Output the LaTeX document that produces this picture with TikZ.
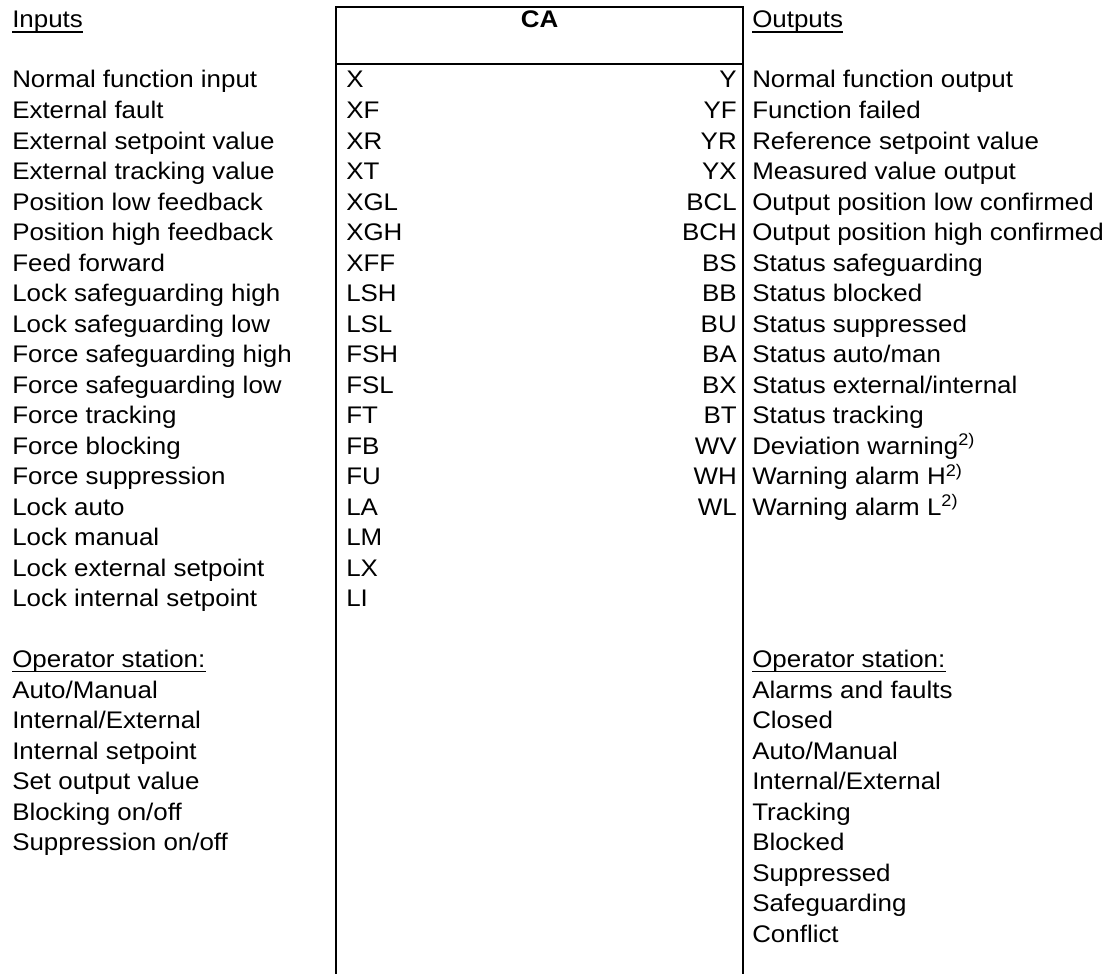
\documentclass[tikz,border=0pt]{standalone}
\usepackage{fontspec}
\setmainfont{Liberation Sans}[FakeStretch=1.08]
\newcommand\lblfont{\fontsize{18}{22}\selectfont}
\begin{document}
\begin{tikzpicture}[x=0.75pt,y=-0.75pt,
  lbl/.style={anchor=base west,inner sep=0pt,font=\lblfont},
  lblr/.style={anchor=base east,inner sep=0pt,font=\lblfont},
  frame/.style={line width=1.5pt},
  bus/.style={line width=1.5pt},
  uline/.style={line width=1.0pt}]
\useasboundingbox (0,0) rectangle (1116,974);

% function block header and its two side rails
\coordinate (tl) at (336,7);
\coordinate (br) at (743,64);
\coordinate (botl) at (336,974);
\coordinate (botr) at (743,974);
\draw[frame] (tl) rectangle (br);
\draw[bus] (tl |- br) -- (botl);
\draw[bus] (br) -- (botr);
\node[inner sep=0pt,font=\lblfont\bfseries,anchor=base] (ca) at (539.5,28) {CA};

% column headings (underlined just below the baseline)
\node[lbl] (hin) at (12,28) {Inputs};
\node[lbl] (hout) at (752,28) {Outputs};

% inputs
\foreach \t [count=\i] in {Normal function input,External fault,External setpoint value,External tracking value,Position low feedback,Position high feedback,Feed forward,Lock safeguarding high,Lock safeguarding low,Force safeguarding high,Force safeguarding low,Force tracking,Force blocking,Force suppression,Lock auto,Lock manual,Lock external setpoint,Lock internal setpoint}
  \node[lbl] (in\i) at (12,{88+30.5*(\i-1)}) {\t};

% input terminals
\foreach \t [count=\i] in {X,XF,XR,XT,XGL,XGH,XFF,LSH,LSL,FSH,FSL,FT,FB,FU,LA,LM,LX,LI}
  \node[lbl] (ti\i) at (346,{88+30.5*(\i-1)}) {\t};

% output terminals
\foreach \t [count=\i] in {Y,YF,YR,YX,BCL,BCH,BS,BB,BU,BA,BX,BT,WV,WH,WL}
  \node[lblr] (to\i) at (737,{88+30.5*(\i-1)}) {\t};

% outputs
\foreach \t [count=\i] in {Normal function output,Function failed,Reference setpoint value,Measured value output,Output position low confirmed,Output position high confirmed,Status safeguarding,Status blocked,Status suppressed,Status auto/man,Status external/internal,Status tracking,{Deviation warning\textsuperscript{2)}},{Warning alarm H\textsuperscript{2)}},{Warning alarm L\textsuperscript{2)}}}
  \node[lbl] (out\i) at (752,{88+30.5*(\i-1)}) {\t};

% operator station, input side
\node[lbl] (opin) at (12,{88+30.5*19}) {Operator station:};
\foreach \t [count=\i] in {Auto/Manual,Internal/External,Internal setpoint,Set output value,Blocking on/off,Suppression on/off}
  \node[lbl] (opi\i) at (12,{88+30.5*(19+\i)}) {\t};

% operator station, output side
\node[lbl] (opout) at (752,{88+30.5*19}) {Operator station:};
\foreach \t [count=\i] in {Alarms and faults,Closed,Auto/Manual,Internal/External,Tracking,Blocked,Suppressed,Safeguarding,Conflict}
  \node[lbl] (opo\i) at (752,{88+30.5*(19+\i)}) {\t};

% underlines of the headings
\foreach \n in {hin,hout,opin,opout}
  \draw[uline] ([yshift=-3pt]\n.base west) -- ([yshift=-3pt]\n.base east);
\end{tikzpicture}
\end{document}
